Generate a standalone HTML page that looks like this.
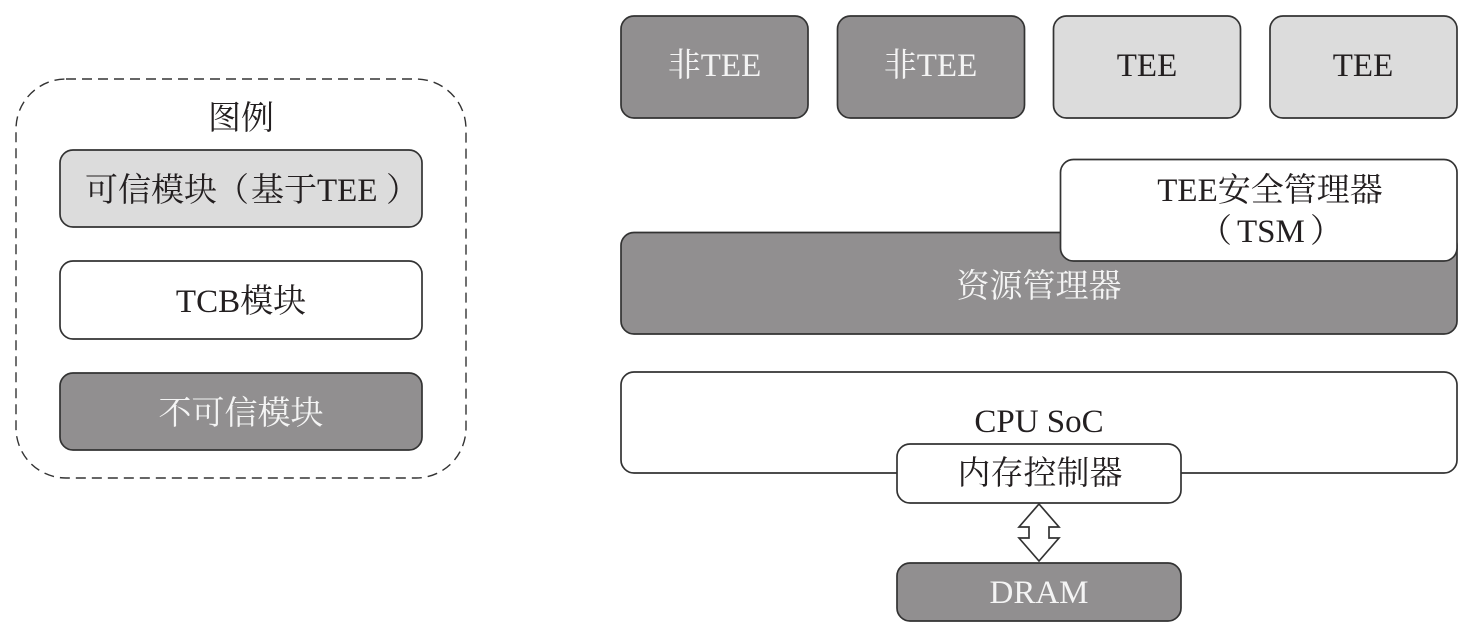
<!DOCTYPE html>
<html lang="zh">
<head>
<meta charset="utf-8">
<style>
html,body{margin:0;padding:0;background:#fff;width:1474px;height:635px;overflow:hidden}
svg{display:block}
text{font-family:"Liberation Serif","Noto Serif CJK SC",serif;font-size:33px;text-anchor:middle;fill:#231f20}
text.w{fill:#f4f4f4}
text.s{text-anchor:start}
rect{stroke:#333;stroke-width:1.7}
.d{fill:#918f90}.l{fill:#dcdcdc}.n{fill:#fff}
</style>
</head>
<body>
<svg width="1474" height="635" viewBox="0 0 1474 635" xmlns="http://www.w3.org/2000/svg">
<rect x="16" y="79" width="450" height="399" rx="50" ry="50" fill="none" stroke-dasharray="10 6" style="stroke:#333;stroke-width:1.4"/>
<text x="241" y="129">图例</text>
<rect class="l" x="60" y="150" width="362" height="77" rx="13"/>
<text class="s" y="201"><tspan x="85">可信模块</tspan><tspan x="216">（</tspan><tspan x="251">基于</tspan><tspan x="317">TEE</tspan><tspan x="386">）</tspan></text>
<rect class="n" x="60" y="261" width="362" height="78" rx="13"/>
<text x="241" y="312">TCB模块</text>
<rect class="d" x="60" y="373" width="362" height="77" rx="13"/>
<text class="w" x="241" y="424">不可信模块</text>

<rect class="d" x="621" y="16" width="187" height="102" rx="13"/>
<text class="w" x="714.500" y="76">非TEE</text>
<rect class="d" x="837.500" y="16" width="187" height="102" rx="13"/>
<text class="w" x="930.500" y="76">非TEE</text>
<rect class="l" x="1053.500" y="16" width="187" height="102" rx="13"/>
<text x="1147" y="76">TEE</text>
<rect class="l" x="1270" y="16" width="187" height="102" rx="13"/>
<text x="1363" y="76">TEE</text>

<rect class="d" x="621" y="232.500" width="836" height="101.500" rx="13"/>
<text class="w" x="1039" y="297">资源管理器</text>
<rect class="n" x="1060.500" y="159.500" width="396.500" height="101.500" rx="13"/>
<text x="1270" y="201">TEE安全管理器</text>
<text class="s" y="242"><tspan x="1199">（</tspan><tspan x="1237">TSM</tspan><tspan x="1310">）</tspan></text>

<rect class="n" x="621" y="372" width="836" height="101" rx="13"/>
<text x="1039" y="432">CPU SoC</text>
<rect class="n" x="897" y="444" width="284" height="59" rx="13"/>
<text x="1040" y="484">内存控制器</text>

<polygon points="1039,504 1059,527 1049,527 1049,538 1059,538 1039,561 1019,538 1029,538 1029,527 1019,527" fill="#fff" stroke="#333" stroke-width="1.7"/>

<rect class="d" x="897" y="563" width="284" height="58" rx="13"/>
<text class="w" x="1039" y="603">DRAM</text>
</svg>
</body>
</html>
